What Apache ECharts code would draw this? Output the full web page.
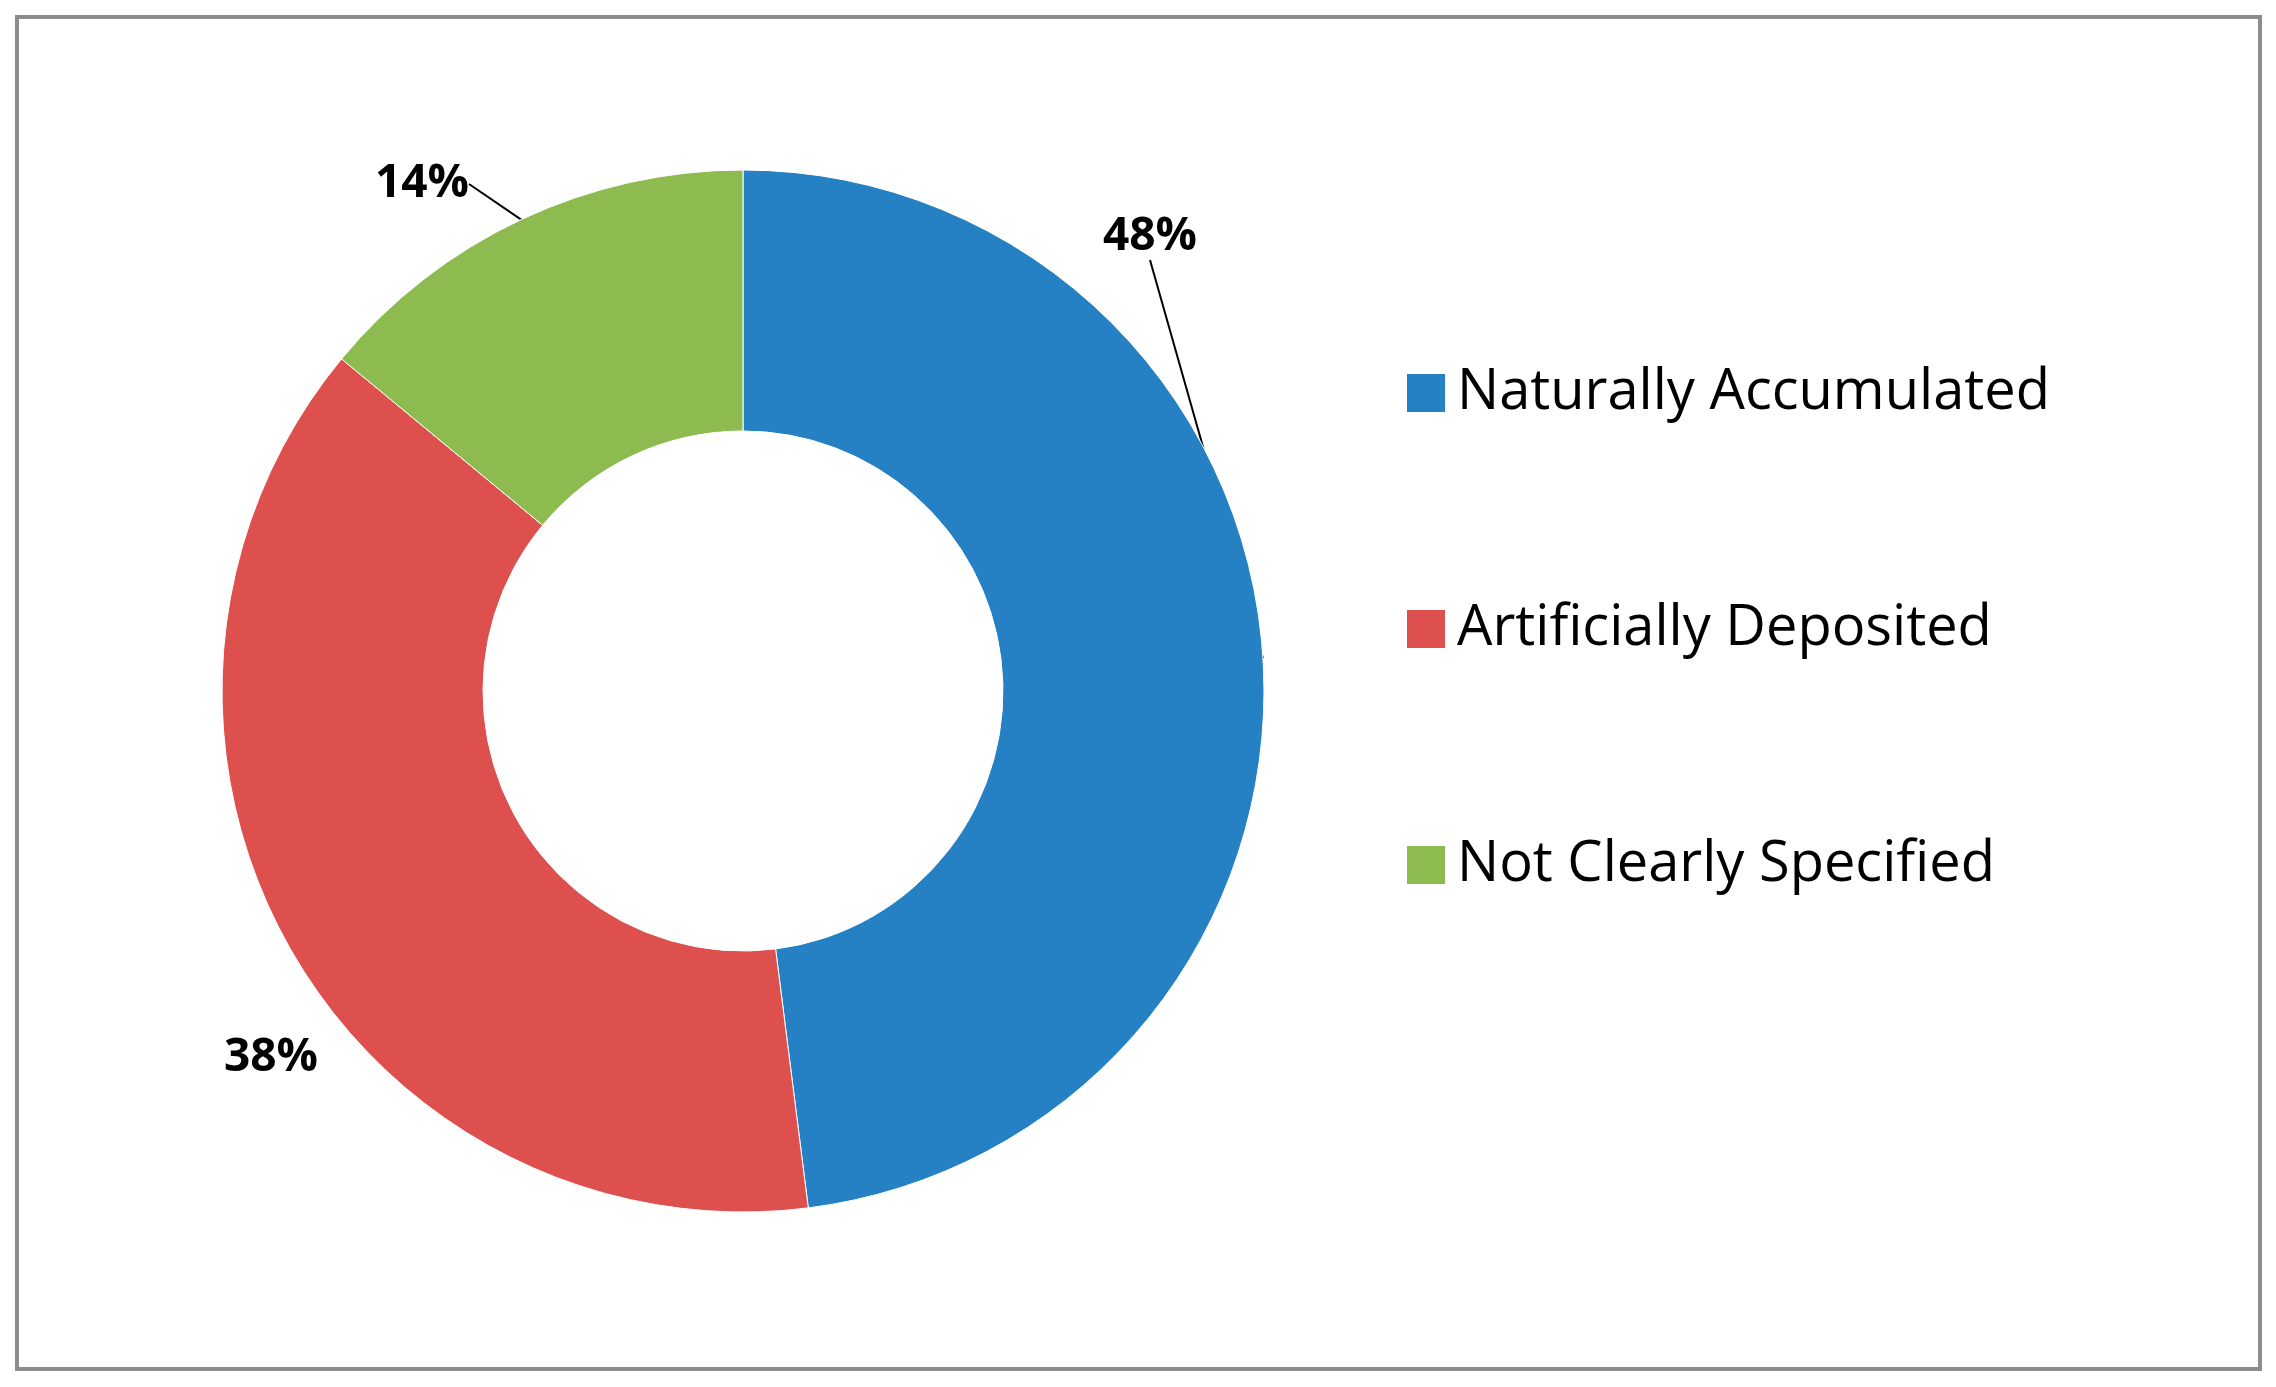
<!DOCTYPE html>
<html><head><meta charset="utf-8">
<script src="https://cdn.jsdelivr.net/npm/echarts@6/dist/echarts.min.js"></script>
<style>html,body{margin:0;padding:0;background:#fff}#c{width:2276px;height:1387px}</style>
</head><body><div id="c"></div>
<script>
var categories = ['Naturally Accumulated', 'Artificially Deposited', 'Not Clearly Specified'];
var values = [48, 38, 14];
var colors = ['#2581C3', '#DE504D', '#8EBB4F'];

// where each percentage label sits
var labelSpots = [[1150, 237], [271, 1058], [422, 184]];

var chart = echarts.init(document.getElementById('c'));
chart.setOption({
    animation: false,
    graphic: [{
        type: 'rect',
        shape: { x: 17, y: 17, width: 2243, height: 1352 },
        style: { fill: 'none', stroke: '#8c8c8c', lineWidth: 4 }
    }],
    legend: {
        orient: 'vertical',
        left: 1400,
        top: 360,
        itemWidth: 40,
        itemHeight: 40,
        itemGap: 180,
        icon: 'rect',
        textStyle: { fontFamily: 'Open Sans', fontSize: 56, color: '#000', padding: [0, 0, 0, 6] },
        data: categories
    },
    series: [{
        type: 'pie',
        center: [743, 691],
        radius: [260, 521],
        startAngle: 90,
        clockwise: true,
        itemStyle: { borderColor: '#fff', borderWidth: 1 },
        label: {
            show: true,
            formatter: '{d}%',
            fontFamily: 'Open Sans',
            fontWeight: 'bold',
            fontSize: 46,
            color: '#000'
        },
        labelLine: { show: true, length: 20, length2: 0, lineStyle: { color: '#000', width: 2 } },
        labelLayout: function (p) {
            var s = labelSpots[p.dataIndex];
            return { x: s[0], y: s[1], align: 'center', verticalAlign: 'middle' };
        },
        data: categories.map(function (n, i) {
            var d = { name: n, value: values[i], itemStyle: { color: colors[i] } };
            if (i === 1) d.labelLine = { show: false };
            return d;
        })
    }]
});
</script></body></html>
